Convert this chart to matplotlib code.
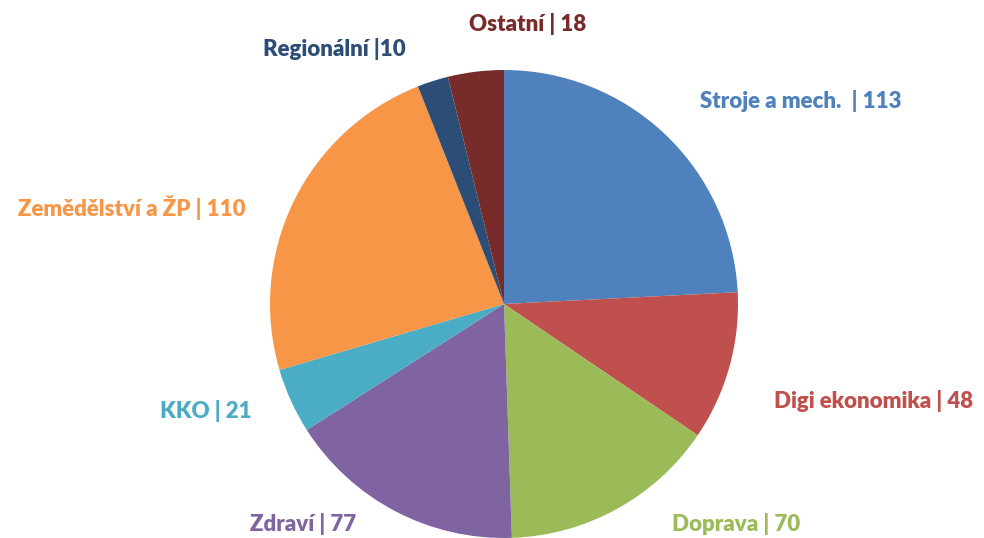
import matplotlib.pyplot as plt

# data
kategorie = ["Stroje a mech.", "Digi ekonomika", "Doprava", "Zdraví",
             "KKO", "Zemědělství a ŽP", "Regionální", "Ostatní"]
hodnoty = [113, 48, 70, 77, 21, 110, 10, 18]
popisky = ["Stroje a mech.  | 113", "Digi ekonomika | 48", "Doprava | 70",
           "Zdraví | 77", "KKO | 21", "Zemědělství a ŽP | 110",
           "Regionální |10", "Ostatní | 18"]
barvy = ["#4F81BD", "#C0504D", "#9BBB59", "#8064A2",
         "#4BACC6", "#F79646", "#2C4D75", "#772C2A"]

# label centres in pixels (x, y from top)
pozice = [(801, 101), (874, 401), (736, 524), (303, 524),
          (206, 411), (132, 208), (334, 49), (528, 24)]

W, H = 984, 538
fig = plt.figure(figsize=(W / 100, H / 100), dpi=100)
ax = fig.add_axes([0, 0, 1, 1])

ax.pie(hodnoty, colors=barvy, startangle=90, counterclock=False,
       center=(504, H - 304), radius=234,
       wedgeprops={'linewidth': 0}, frame=True)
ax.set_xlim(0, W)
ax.set_ylim(0, H)
ax.axis('off')

for txt, (px, py), c in zip(popisky, pozice, barvy):
    ax.text(px, H - py, txt, color=c, fontsize=16, fontweight='heavy',
            family='Lato', ha='center', va='center')

fig.savefig("out.png", dpi=100)
